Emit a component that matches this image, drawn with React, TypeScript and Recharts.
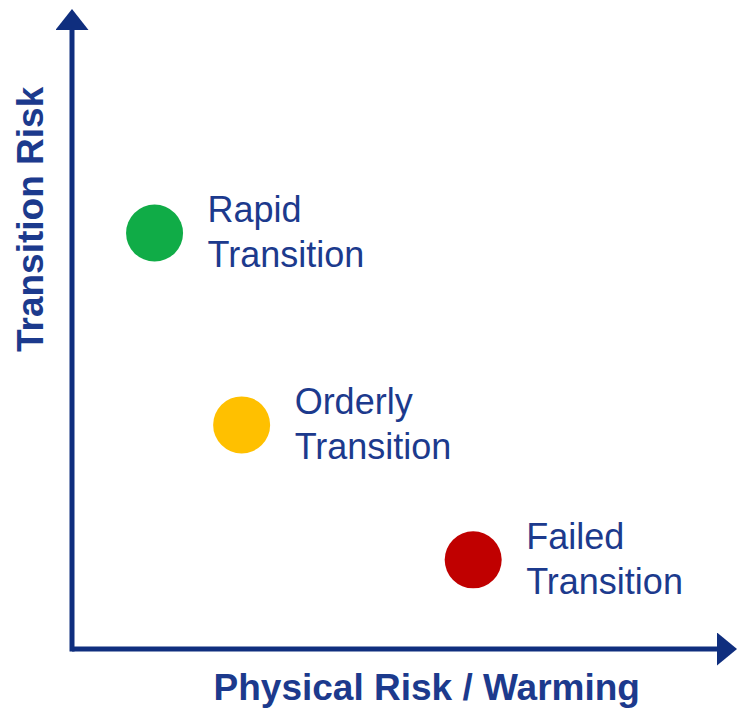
import React from 'react';
import { ScatterChart, Scatter, XAxis, YAxis, Label } from 'recharts';

// ---- data ----
const scenarios = ['Rapid Transition', 'Orderly Transition', 'Failed Transition'];
const labelLines = [
  ['Rapid', 'Transition'],
  ['Orderly', 'Transition'],
  ['Failed', 'Transition'],
];
const physicalRisk = [1.28, 2.63, 6.22];
const transitionRisk = [6.72, 3.62, 1.44];
const xAxisTitle = 'Physical Risk / Warming';
const yAxisTitle = 'Transition Risk';

// ---- styles ----
const COLORS = ['#10AC47', '#FFC000', '#C00000'];
const AXIS_COLOR = '#0F2E7E';
const TEXT_COLOR = '#1C3A8D';
const FONT = '"Liberation Sans", Arial, Helvetica, sans-serif';

const data = scenarios.map((name, i) => ({
  name,
  x: physicalRisk[i],
  y: transitionRisk[i],
  lines: labelLines[i],
}));

const PointShape = (p: any) => {
  const i = scenarios.indexOf(p.payload.name);
  const cx = p.cx;
  const cy = p.cy;
  return (
    <g>
      <circle cx={cx} cy={cy} r={28.5} fill={COLORS[i]} />
      <text x={cx + 53} y={cy - 11} fill={TEXT_COLOR} fontSize={36} fontFamily={FONT}>
        {p.payload.lines[0]}
      </text>
      <text x={cx + 53} y={cy + 34} fill={TEXT_COLOR} fontSize={36} fontFamily={FONT}>
        {p.payload.lines[1]}
      </text>
    </g>
  );
};

const XTitle = (props: any) => {
  const vb = props.viewBox || { x: 72, y: 649, width: 645, height: 62 };
  return (
    <text
      x={vb.x + vb.width * 0.55}
      y={vb.y + 51}
      textAnchor="middle"
      fill={TEXT_COLOR}
      fontSize={37}
      fontWeight="bold"
      fontFamily={FONT}
    >
      {xAxisTitle}
    </text>
  );
};

const YTitle = (props: any) => {
  const vb = props.viewBox || { x: 0, y: 30, width: 72, height: 619 };
  const x = vb.x + vb.width - 29;
  const y = vb.y + vb.height * 0.306;
  return (
    <text
      x={x}
      y={y}
      transform={`rotate(-90, ${x}, ${y})`}
      textAnchor="middle"
      fill={TEXT_COLOR}
      fontSize={37}
      fontWeight="bold"
      fontFamily={FONT}
    >
      {yAxisTitle}
    </text>
  );
};

export default function App() {
  return (
    <div style={{ width: 741, height: 711, background: '#fff' }}>
      <style>{'body{margin:0;}'}</style>
      <svg width={0} height={0} style={{ position: 'absolute' }}>
        <defs>
          <marker
            id="arrowX"
            markerUnits="userSpaceOnUse"
            viewBox="0 0 20 33"
            refX={0}
            refY={16.5}
            markerWidth={20}
            markerHeight={33}
            orient="0"
          >
            <path d="M0,0 L20,16.5 L0,33 Z" fill={AXIS_COLOR} />
          </marker>
          <marker
            id="arrowY"
            markerUnits="userSpaceOnUse"
            viewBox="0 0 21 33"
            refX={0}
            refY={16.5}
            markerWidth={21}
            markerHeight={33}
            orient="270"
          >
            <path d="M0,0 L21,16.5 L0,33 Z" fill={AXIS_COLOR} />
          </marker>
        </defs>
      </svg>
      <ScatterChart
        width={741}
        height={711}
        margin={{ top: 30, right: 24, bottom: 0, left: 0 }}
      >
        <XAxis
          type="number"
          dataKey="x"
          domain={[0, 10]}
          height={62}
          tick={false}
          tickLine={false}
          stroke={AXIS_COLOR}
          axisLine={{ stroke: AXIS_COLOR, strokeWidth: 5, markerEnd: 'url(#arrowX)' }}
        >
          <Label content={XTitle} />
        </XAxis>
        <YAxis
          type="number"
          dataKey="y"
          domain={[0, 10]}
          width={72}
          tick={false}
          tickLine={false}
          stroke={AXIS_COLOR}
          axisLine={{
            stroke: AXIS_COLOR,
            strokeWidth: 5,
            strokeLinecap: 'square',
            markerStart: 'url(#arrowY)',
          }}
        >
          <Label content={YTitle} />
        </YAxis>
        <Scatter data={data} shape={PointShape} isAnimationActive={false} />
      </ScatterChart>
    </div>
  );
}
